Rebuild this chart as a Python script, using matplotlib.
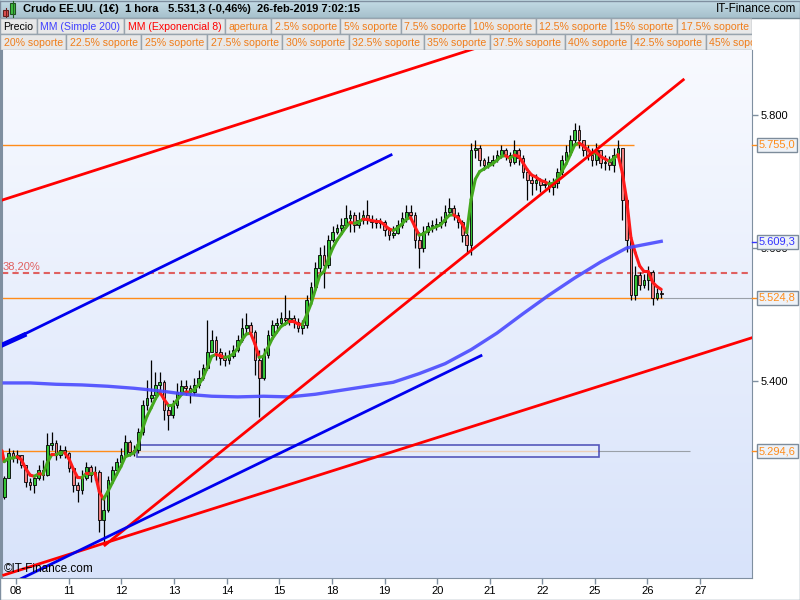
import numpy as np
import pandas as pd
import matplotlib
matplotlib.use("Agg")
import matplotlib.pyplot as plt
import matplotlib.transforms as mtransforms
from matplotlib.collections import LineCollection
from matplotlib.colors import LinearSegmentedColormap
from matplotlib.patches import Rectangle
from matplotlib.ticker import FuncFormatter

plt.rcParams['font.family'] = ['Liberation Sans', 'DejaVu Sans']

# ---- data (x in bar index, ~2h bars; prices in points) ----
day_labels = ['08', '11', '12', '13', '14', '15', '18', '19', '20', '21', '22', '25', '26', '27']
day_start_bar = [2.8, 15.0, 27.1, 39.3, 51.5, 63.6, 75.8, 88.0, 100.2, 112.3, 124.5, 136.7, 148.8, 161.0]

first_open = 5225
closes = [5254, 5292, 5284, 5289, 5274, 5248, 5244, 5254, 5266, 5259,
          5304, 5307, 5289, 5296, 5292, 5269, 5244, 5236, 5254, 5271,
          5259, 5263, 5191, 5206, 5251, 5266, 5278, 5289, 5308, 5293,
          5296, 5323, 5364, 5374, 5379, 5394, 5398, 5356, 5349, 5364,
          5383, 5392, 5389, 5383, 5394, 5405, 5420, 5444, 5462, 5444,
          5435, 5432, 5438, 5447, 5462, 5480, 5484, 5474, 5432, 5405,
          5439, 5469, 5484, 5487, 5495, 5492, 5495, 5489, 5480, 5484,
          5522, 5541, 5570, 5590, 5574, 5612, 5624, 5630, 5635, 5645,
          5650, 5635, 5642, 5650, 5642, 5639, 5638, 5639, 5627, 5620,
          5623, 5635, 5645, 5654, 5650, 5612, 5600, 5624, 5633, 5635,
          5636, 5639, 5654, 5660, 5650, 5639, 5620, 5605, 5747, 5750,
          5732, 5725, 5729, 5732, 5740, 5747, 5740, 5729, 5747, 5735,
          5714, 5702, 5698, 5702, 5695, 5696, 5692, 5698, 5714, 5732,
          5744, 5762, 5777, 5762, 5747, 5740, 5732, 5747, 5728, 5729,
          5725, 5740, 5750, 5672, 5612, 5529, 5559, 5544, 5552, 5564,
          5525, 5532, 5531.3]
highs = [5257, 5299, 5296, 5296, 5289, 5274, 5254, 5259, 5274, 5281,
         5322, 5323, 5311, 5304, 5302, 5293, 5271, 5248, 5266, 5278,
         5274, 5272, 5266, 5225, 5257, 5272, 5284, 5299, 5319, 5311,
         5304, 5329, 5371, 5402, 5432, 5414, 5414, 5402, 5364, 5371,
         5397, 5402, 5402, 5394, 5405, 5417, 5426, 5492, 5477, 5468,
         5450, 5444, 5447, 5454, 5469, 5495, 5502, 5489, 5477, 5447,
         5450, 5477, 5492, 5495, 5504, 5529, 5507, 5499, 5495, 5492,
         5529, 5549, 5579, 5602, 5605, 5620, 5633, 5636, 5645, 5665,
         5657, 5654, 5654, 5657, 5672, 5650, 5645, 5645, 5642, 5630,
         5633, 5642, 5654, 5665, 5665, 5654, 5624, 5633, 5639, 5642,
         5645, 5648, 5665, 5675, 5665, 5654, 5642, 5624, 5758, 5762,
         5755, 5735, 5738, 5740, 5747, 5755, 5750, 5744, 5762, 5750,
         5740, 5717, 5710, 5711, 5705, 5705, 5702, 5705, 5720, 5740,
         5755, 5770, 5788, 5785, 5762, 5755, 5750, 5758, 5747, 5740,
         5738, 5750, 5762, 5750, 5672, 5612, 5573, 5564, 5561, 5573,
         5567, 5540, 5537]
lows = [5222, 5254, 5278, 5277, 5269, 5241, 5236, 5231, 5251, 5251,
        5257, 5296, 5281, 5284, 5284, 5263, 5233, 5218, 5230, 5251,
        5248, 5251, 5173, 5158, 5203, 5248, 5263, 5274, 5286, 5287,
        5287, 5292, 5319, 5356, 5368, 5383, 5386, 5341, 5326, 5344,
        5359, 5379, 5379, 5367, 5379, 5389, 5402, 5417, 5444, 5432,
        5424, 5423, 5426, 5435, 5444, 5459, 5472, 5468, 5409, 5346,
        5402, 5435, 5465, 5477, 5483, 5484, 5484, 5480, 5474, 5471,
        5480, 5519, 5537, 5564, 5540, 5570, 5609, 5621, 5624, 5630,
        5624, 5624, 5630, 5636, 5636, 5630, 5630, 5630, 5618, 5612,
        5615, 5621, 5630, 5639, 5642, 5600, 5570, 5594, 5620, 5624,
        5627, 5630, 5633, 5650, 5642, 5630, 5609, 5594, 5590, 5735,
        5723, 5717, 5720, 5723, 5729, 5735, 5732, 5723, 5726, 5725,
        5705, 5672, 5680, 5687, 5684, 5690, 5684, 5680, 5690, 5710,
        5729, 5740, 5755, 5750, 5738, 5732, 5723, 5725, 5720, 5717,
        5717, 5714, 5735, 5642, 5594, 5522, 5522, 5537, 5540, 5537,
        5514, 5522, 5525]

# MM (Simple 200), read at every 6th bar
ma200_bar = [0, 6, 12, 18, 24, 30, 36, 42, 48, 54, 60, 66, 72, 78, 84,
             90, 96, 102, 108, 114, 120, 126, 132, 138, 144, 152]
ma200 = [5397, 5397, 5395, 5394, 5392, 5389, 5385, 5380, 5377, 5376, 5377,
         5376, 5380, 5386, 5392, 5398, 5411, 5426, 5447, 5472, 5501, 5529,
         5555, 5579, 5600, 5610]

# MM (Exponencial 8) on hourly bars ~ span 4 on these 2h bars
ema_span = 4
ema_seed = 5295

# drawn trend lines: (bar0, price0, bar1, price1)
red_lines = [(-0.5, 5672, 109.8, 5902), (23.3, 5153, 157.1, 5853), (-0.1, 5108, 173.0, 5465)]
blue_lines = [(-0.5, 5454, 89.5, 5740), (3.4, 5101, 110.3, 5438)]
blue_stub = (-0.5, 5454, 4.6, 5469)

level_open = 5755.0
level_ma = 5609.3
level_supp = 5524.8
level_low = 5294.6
fibo_382 = 5562
zone_bars = (30.65, 137.7)
zone_prices = (5286, 5304)

price = 5531.3
change_pct = -0.46

legend_row1 = [('Precio', 'black'), ('MM (Simple 200)', '#4040ff'),
               ('MM (Exponencial 8)', '#ff0000'), ('apertura', '#f07d1a'),
               ('2.5% soporte', '#f07d1a'), ('5% soporte', '#f07d1a'),
               ('7.5% soporte', '#f07d1a'), ('10% soporte', '#f07d1a'),
               ('12.5% soporte', '#f07d1a'), ('15% soporte', '#f07d1a'),
               ('17.5% soporte', '#f07d1a')]
legend_row2 = [(f'{p}% soporte', '#f07d1a') for p in
               ['20', '22.5', '25', '27.5', '30', '32.5', '35', '37.5', '40', '42.5', '45']]


def es_num(v, dec):
    s = f"{v:,.{dec}f}"
    return s.replace(',', 'X').replace('.', ',').replace('X', '.')


# ---- figure ----
fig = plt.figure(figsize=(8, 6), dpi=100)
fig.patch.set_facecolor('white')
ax = fig.add_axes([2/800, 22/600, 750/800, 528/600])

x0, x1 = -0.51, 173.0
y0, y1 = 5103.6, 5897.8
bg = LinearSegmentedColormap.from_list('bg', ['#d8e3fa', '#f8faff'])
ax.imshow(np.linspace(0, 1, 256).reshape(-1, 1), cmap=bg, origin='lower',
          extent=[x0, x1, y0, y1], aspect='auto', zorder=0)

# levels
ax.hlines(level_open, x0, 145.6, color='#ff8c1a', lw=1, zorder=1)
ax.hlines(level_supp, x0, 152.3, color='#ff8c1a', lw=1, zorder=1)
ax.hlines(level_supp, 152.3, x1, color='#9aa0a8', lw=0.8, zorder=1)
ax.hlines(level_low, x0, zone_bars[1], color='#ff8c1a', lw=1, zorder=1)
ax.hlines(level_low, zone_bars[1], 158.7, color='#9aa0a8', lw=0.8, zorder=1)
ax.hlines(fibo_382, x0, 172, color='#e06060', lw=1.5, linestyles=(0, (3, 2)), zorder=2)
ax.text(-0.3, fibo_382 + 2, '38,20%', color='#e06060', fontsize=8, va='bottom', zorder=7)

ax.add_patch(Rectangle((zone_bars[0], zone_prices[0]), zone_bars[1] - zone_bars[0],
                       zone_prices[1] - zone_prices[0], facecolor='#e4ecfd', alpha=0.7,
                       edgecolor='#1a1aa0', lw=1.2, zorder=2))

# candles
bars = np.arange(len(closes))
c = np.array(closes, dtype=float)
o = np.r_[first_open, c[:-1]]
h = np.array(highs, dtype=float)
lo = np.array(lows, dtype=float)
up = c >= o
ax.vlines(bars, lo, h, color='black', lw=0.9, zorder=3)
body_lo = np.minimum(o, c)
body_h = np.maximum(np.abs(c - o), 1.2)
ax.bar(bars, body_h, bottom=body_lo, width=0.62,
       color=np.where(up, '#35c435', '#f08080'), edgecolor='black', lw=0.6, zorder=4)

# EMA 8, green while rising / red while falling
ema = pd.Series(np.r_[ema_seed, c]).ewm(span=ema_span, adjust=False).mean().values
ex = np.r_[-0.5, bars]
segs = [[(ex[k], ema[k]), (ex[k + 1], ema[k + 1])] for k in range(len(ema) - 1)]
cols = ['#44a81e' if ema[k + 1] >= ema[k] else '#ff1a1a' for k in range(len(ema) - 1)]
ax.add_collection(LineCollection(segs, colors=cols, lw=2.2, zorder=5, capstyle='round'))

# SMA 200
ax.plot(ma200_bar, ma200, color='#4a4aff', lw=2.4, alpha=0.9, zorder=5)

# trend lines
for a, pa, b, pb in red_lines:
    ax.plot([a, b], [pa, pb], color='#ff0000', lw=2, zorder=6)
for a, pa, b, pb in blue_lines:
    ax.plot([a, b], [pa, pb], color='#0000ee', lw=2, zorder=6)
ax.plot(blue_stub[::2], blue_stub[1::2], color='#0000ee', lw=3.5, zorder=6)

ax.set_xlim(x0, x1)
ax.set_ylim(y0, y1)

# axes styling
ax.yaxis.tick_right()
ax.set_yticks([5400, 5600, 5800])
ax.yaxis.set_major_formatter(FuncFormatter(lambda v, _: f"{v/1000:.3f}"))
ax.tick_params(axis='y', length=4, width=1, color='#7f8fa0', labelsize=8, pad=2)
ax.set_xticks(day_start_bar)
ax.set_xticklabels(day_labels)
ax.tick_params(axis='x', length=4, width=1, color='#7f8fa0', labelsize=8, pad=2)
for side in ['left', 'right', 'bottom']:
    ax.spines[side].set_color('#7f8fa0')
ax.spines['left'].set_linewidth(1.5)
ax.spines['top'].set_visible(False)

ax.text(0.002, 0.006, '©IT-Finance.com', transform=ax.transAxes, fontsize=8.5,
        va='bottom', ha='left', zorder=10)

# price boxes on the right axis (they cover the 5.600 tick label, as in the source)
trans = mtransforms.blended_transform_factory(ax.transAxes, ax.transData)
for val, col in [(level_open, '#ff8c1a'), (level_ma, '#3333ff'),
                 (level_supp, '#ff8c1a'), (level_low, '#ff8c1a')]:
    ax.plot([1.0, 1.007], [val, val], color=col, lw=1, transform=trans, clip_on=False, zorder=10)
    ax.text(1.009, val, es_num(val, 1), transform=trans, color=col, fontsize=8,
            va='center', ha='left', zorder=11,
            bbox=dict(boxstyle='square,pad=0.18', fc='#eef2f8', ec='#7d8c9b', lw=1))

# ---- header & legend overlay (pixel coordinates) ----
ov = fig.add_axes([0, 0, 1, 1], zorder=10)
ov.set_xlim(0, 800)
ov.set_ylim(600, 0)
ov.axis('off')
ov.patch.set_alpha(0)

hdr = LinearSegmentedColormap.from_list('hdr', ['#a6c0cc', '#c4dce6'])
ov.imshow(np.linspace(0, 1, 64).reshape(-1, 1), cmap=hdr, origin='lower',
          extent=[0, 800, 18, 0], aspect='auto')
ov.set_xlim(0, 800)
ov.set_ylim(600, 0)
ov.plot([0, 800], [18, 18], color='#70848f', lw=1)
ov.plot([0, 800, 800, 0, 0], [0.5, 0.5, 599.5, 599.5, 0.5], color='#7f8fa0', lw=1)

# little candle icon
ov.plot([5.5, 5.5], [8, 18], color='#702020', lw=0.8)
ov.add_patch(Rectangle((3, 10), 5, 6, fc='#e05050', ec='#602020', lw=0.8))
ov.plot([12.5, 12.5], [1, 17], color='#206020', lw=0.8)
ov.add_patch(Rectangle((10, 3), 5, 11, fc='#40c040', ec='#205020', lw=0.8))

hdr_txt = dict(fontsize=8, fontweight='bold', va='center', ha='left', color='black')
ov.text(23, 9.5, 'Crudo EE.UU. (1€)', **hdr_txt)
ov.text(125, 9.5, '1 hora', **hdr_txt)
ov.text(168, 9.5, f'{es_num(price, 1)} ({es_num(change_pct, 2)}%)', **hdr_txt)
ov.text(257, 9.5, '26-feb-2019 7:02:15', **hdr_txt)
ov.text(796, 9.5, 'IT-Finance.com', fontsize=8.4, va='center', ha='right', color='black')

renderer = fig.canvas.get_renderer()
clip = Rectangle((0, 18), 752, 32, transform=ov.transData)
for row, items in enumerate([legend_row1, legend_row2]):
    top = 18 + 16 * row
    x = 0
    for label, col in items:
        t = ov.text(x + 3.5, top + 8.5, label, color=col, fontsize=7.6, va='center', ha='left',
                    zorder=3, clip_on=True)
        w = t.get_window_extent(renderer).width
        t.set_clip_path(clip)
        cell = Rectangle((x, top), w + 7, 16, fc='#e8e8e8', ec='#98a4ae', lw=1, zorder=2)
        ov.add_patch(cell)
        cell.set_clip_path(clip)
        x += w + 7

fig.savefig('out.png', dpi=100)
